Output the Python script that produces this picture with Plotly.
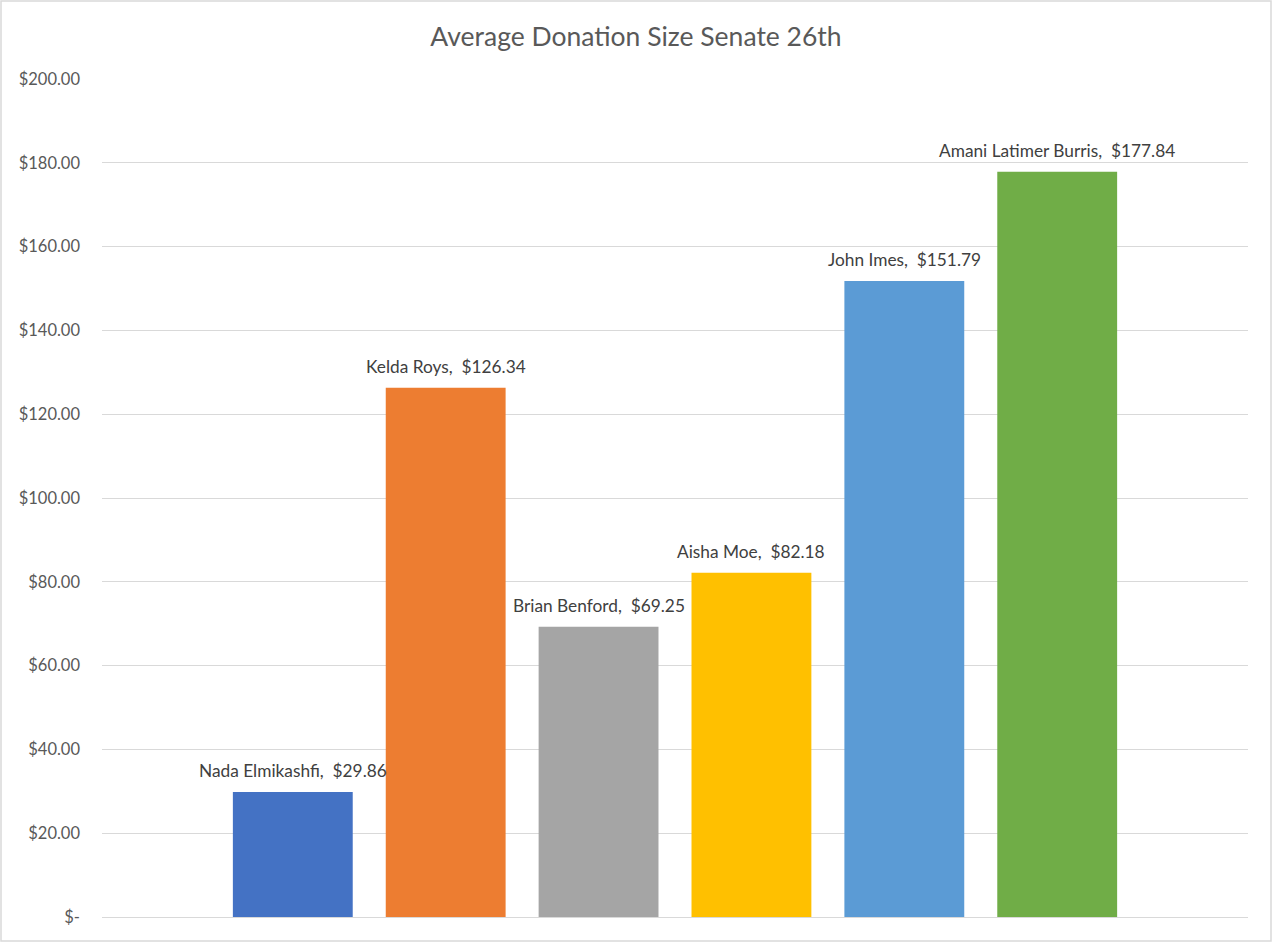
import plotly.graph_objects as go

candidates = ["Nada Elmikashfi", "Kelda Roys", "Brian Benford", "Aisha Moe", "John Imes", "Amani Latimer Burris"]
avg_donation = [29.86, 126.34, 69.25, 82.18, 151.79, 177.84]
bar_colors = ["#4472C4", "#ED7D31", "#A5A5A5", "#FFC000", "#5B9BD5", "#70AD47"]
tick_values = [0, 20, 40, 60, 80, 100, 120, 140, 160, 180, 200]
tick_labels = ["$-", "$20.00", "$40.00", "$60.00", "$80.00", "$100.00", "$120.00",
               "$140.00", "$160.00", "$180.00", "$200.00"]

labels = [f"{n},  ${v:.2f}" for n, v in zip(candidates, avg_donation)]

W, H = 1272, 942
L, R, T, B = 102, 24, 79, 25
pw, ph = W - L - R, H - T - B
FONT = "Lato"

fig = go.Figure()
fig.add_trace(go.Bar(
    x=candidates,
    y=avg_donation,
    marker=dict(color=bar_colors, line=dict(width=0)),
    width=0.784,
    hoverinfo="skip",
))

for c, v, t in zip(candidates, avg_donation, labels):
    fig.add_annotation(x=c, y=v, text=t, showarrow=False, xanchor="center",
                       yanchor="bottom", yshift=9,
                       font=dict(family=FONT, size=17.3, color="#404040"))

fig.update_layout(
    width=W, height=H,
    margin=dict(l=L, r=R, t=T, b=B),
    paper_bgcolor="white",
    plot_bgcolor="white",
    showlegend=False,
    title=dict(text="Average Donation Size Senate 26th", x=0.5, xanchor="center",
               y=1 - 37 / H, yanchor="middle",
               font=dict(family=FONT, size=26.5, color="#595959")),
    xaxis=dict(range=[-1.248, 6.248], showticklabels=False, showgrid=False,
               zeroline=False, showline=False, ticks=""),
    yaxis=dict(range=[0, 200], tickvals=tick_values, ticktext=tick_labels,
               showgrid=True, gridcolor="#D9D9D9", gridwidth=1,
               zeroline=True, zerolinecolor="#D9D9D9", zerolinewidth=1,
               showline=False, ticks="", ticklabelstandoff=21,
               tickfont=dict(family=FONT, size=16.5, color="#595959")),
    shapes=[dict(type="rect", xref="paper", yref="paper",
                 x0=-(L - 1) / pw, x1=1 + (R - 1) / pw,
                 y0=-(B - 1) / ph, y1=1 + (T - 1) / ph,
                 line=dict(color="#D9D9D9", width=1.5), fillcolor="rgba(0,0,0,0)")],
)

fig.write_html("out.html", config={"displayModeBar": False},
               post_script="document.body.style.margin='0';document.body.style.overflow='hidden';")
